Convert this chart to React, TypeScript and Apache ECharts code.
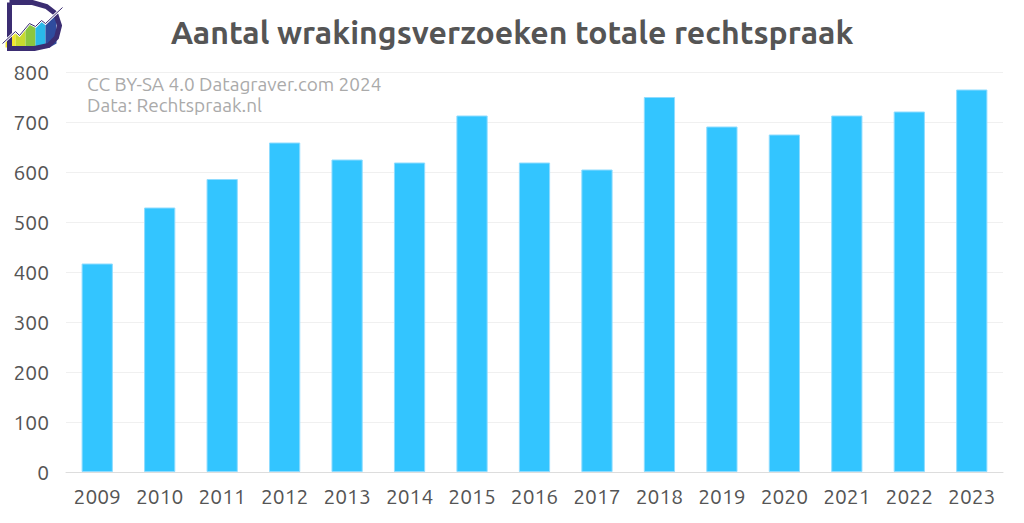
import React, { useEffect, useRef } from "react";
import * as echarts from "echarts";

const years = ["2009","2010","2011","2012","2013","2014","2015","2016","2017","2018","2019","2020","2021","2022","2023"];
const counts = [417, 529, 586, 659, 625, 619, 713, 619, 605, 750, 691, 675, 713, 721, 765];
const title = "Aantal wrakingsverzoeken totale rechtspraak";
const credits = ["CC BY-SA 4.0 Datagraver.com 2024", "Data: Rechtspraak.nl"];

export default function App() {
  const ref = useRef<HTMLDivElement>(null);
  useEffect(() => {
    const chart = echarts.init(ref.current!, null, { renderer: "svg" });
    const font = "Ubuntu, 'Open Sans', 'Noto Sans', sans-serif";
    chart.setOption({
      animation: false,
      backgroundColor: "#ffffff",
      title: {
        text: title,
        left: "center",
        top: 11,
        textStyle: { fontFamily: font, fontSize: 32, fontWeight: "bold", color: "#555555" },
      },
      grid: { left: 66, right: 21, top: 72, bottom: 51, containLabel: false },
      xAxis: {
        type: "category",
        data: years,
        axisTick: { show: false },
        axisLine: { show: true, lineStyle: { color: "#dddddd", width: 1 } },
        axisLabel: { color: "#555555", fontSize: 21, fontFamily: font, margin: 13 },
      },
      yAxis: {
        type: "value",
        min: 0,
        max: 800,
        interval: 100,
        axisLine: { show: false },
        axisTick: { show: false },
        splitLine: { lineStyle: { color: "#f0f0f0", width: 1 } },
        axisLabel: { color: "#555555", fontSize: 21, fontFamily: font, margin: 17 },
      },
      series: [
        {
          type: "bar",
          data: counts,
          barWidth: "50%",
          itemStyle: { color: "#33c5ff", borderColor: "#8fdcff", borderWidth: 1 },
        },
      ],
      graphic: [
        {
          type: "text",
          left: 87,
          top: 74,
          style: { text: credits[0], fontFamily: font, fontSize: 19, fill: "#aaaaaa" },
        },
        {
          type: "text",
          left: 87,
          top: 95,
          style: { text: credits[1], fontFamily: font, fontSize: 19, fill: "#aaaaaa" },
        },
        {
          type: "group",
          left: 0,
          top: 0,
          children: [
            { type: "polygon", shape: { points: [[3, 50], [3, 43], [13, 34], [13, 50]] }, style: { fill: "#f2e82c" } },
            { type: "polygon", shape: { points: [[13, 50], [13, 34], [17, 38], [23, 31], [23, 50]] }, style: { fill: "#c8da2e" } },
            { type: "polygon", shape: { points: [[23, 50], [23, 31], [27, 26], [33, 29], [33, 50]] }, style: { fill: "#8cc63f" } },
            { type: "polygon", shape: { points: [[33, 50], [33, 29], [39, 23], [43, 26], [43, 50]] }, style: { fill: "#2ab9ea" } },
            { type: "polygon", shape: { points: [[43, 50], [43, 26], [45, 24], [54, 16], [54, 46], [47, 50]] }, style: { fill: "#2f4c9e" } },
            {
              type: "polyline",
              shape: { points: [[7, 5], [30, 5], [44, 9], [53, 16], [57, 28], [54, 40], [46, 48], [32, 51], [7, 51], [7, 5]] },
              style: { stroke: "#3b2d72", lineWidth: 5, fill: "none" },
            },
            {
              type: "polyline",
              shape: { points: [[0, 46], [13, 34], [17, 38], [27, 26], [33, 29], [39, 23], [43, 26], [60, 10]] },
              style: { stroke: "#ffffff", lineWidth: 2.5, fill: "none" },
            },
            {
              type: "polyline",
              shape: { points: [[0, 46], [13, 34], [17, 38], [27, 26], [33, 29], [39, 23], [43, 26], [60, 10]] },
              style: { stroke: "#3b2d72", lineWidth: 1, fill: "none" },
            },
          ],
        },
      ],
    });
    return () => chart.dispose();
  }, []);
  return <div ref={ref} style={{ width: 1024, height: 523, position: "absolute", left: 0, top: 0 }} />;
}
